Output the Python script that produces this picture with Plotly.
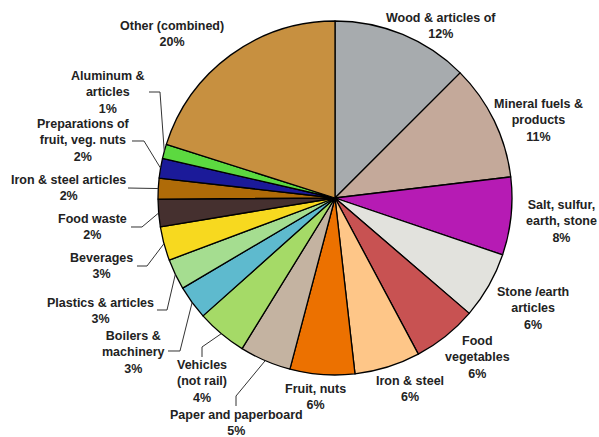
import math
import plotly.graph_objects as go

# ---- data ----
categories = [
    "Wood & articles of", "Mineral fuels &<br>products", "Salt, sulfur,<br>earth, stone",
    "Stone /earth<br>articles", "Food<br>vegetables", "Iron & steel", "Fruit, nuts",
    "Paper and paperboard", "Vehicles<br>(not rail)", "Boilers &<br>machinery",
    "Plastics & articles", "Beverages", "Food waste", "Iron & steel articles",
    "Preparations of<br>fruit, veg. nuts", "Aluminum &<br>articles", "Other (combined)",
]
values = [12.5, 10.6, 7.1, 6.1, 5.9, 6.0, 5.9, 4.7, 4.6, 3.1, 2.8, 3.1, 2.5, 1.9, 1.8, 1.3, 20.1]
pct_labels = ["12%", "11%", "8%", "6%", "6%", "6%", "6%", "5%", "4%", "3%",
              "3%", "3%", "2%", "2%", "2%", "1%", "20%"]

# ---- style ----
colors = ["#A7ABAE", "#C4A99A", "#B61BB4", "#E2E2DD", "#C85252", "#FEC688", "#EC7100",
          "#C4B3A1", "#A5DA67", "#5EBACE", "#A5DD90", "#F7D91F", "#45302F", "#AF6B08",
          "#1B1A99", "#5CD940", "#C79040"]

W, H = 599, 437
CX, CY, R = 335, 198, 177

# label block centres in pixels (layout only)
label_pos = [(441, 26), (538, 120), (561, 221), (533, 308), (477, 357), (410, 389),
             (315, 397), (236, 423), (202, 381), (133, 352), (100, 311), (101, 266),
             (92, 227), (68, 188), (83, 141), (108, 92), (172, 34)]
# leader-line elbow points (pixels); None = no leader line
elbows = [None, None, None, None, None, None, None,
          [(236, 406), (236, 396)], [(202, 357), (202, 347)], [(168, 351), (180, 351)],
          [(157, 310), (167, 310)], [(137, 266), (147, 266)], [(131, 227), (142, 227)],
          [(128, 188)], [(132, 141), (144, 141)], [(149, 92), (160, 92)], None]


def px(x):
    return x / W


def py(y):
    return 1 - y / H


fig = go.Figure(go.Pie(
    labels=[c.replace("<br>", " ") for c in categories],
    values=values,
    sort=False,
    direction="clockwise",
    rotation=0,
    textinfo="none",
    hoverinfo="label+percent",
    marker=dict(colors=colors, line=dict(color="#000000", width=1.3)),
    domain=dict(x=[px(CX - R), px(CX + R)], y=[py(CY + R), py(CY - R)]),
    showlegend=False,
))

total = sum(values)
cum = 0.0
shapes = []
annotations = []
for i, v in enumerate(values):
    mid = (cum + v / 2) / total * 2 * math.pi
    cum += v
    ex = CX + R * math.sin(mid)
    ey = CY - R * math.cos(mid)
    lx, ly = label_pos[i]
    annotations.append(dict(
        x=px(lx), y=py(ly), xref="paper", yref="paper",
        text=f"<b>{categories[i]}<br>{pct_labels[i]}</b>",
        showarrow=False, xanchor="center", yanchor="middle", align="center",
        font=dict(family="Liberation Sans, Arial, sans-serif", size=12.5, color="#222222"),
    ))
    if elbows[i]:
        pts = elbows[i] + [(ex, ey)]
        path = "M " + " L ".join(f"{px(x):.5f},{py(y):.5f}" for x, y in pts)
        shapes.append(dict(type="path", path=path, xref="paper", yref="paper",
                           line=dict(color="#333333", width=1)))

fig.update_layout(
    width=W, height=H,
    margin=dict(l=0, r=0, t=0, b=0),
    paper_bgcolor="white", plot_bgcolor="white",
    annotations=annotations, shapes=shapes,
)

fig.write_html(
    "out.html",
    config={"displayModeBar": False},
    post_script="document.body.style.margin='0px';document.body.style.overflow='hidden';",
)
